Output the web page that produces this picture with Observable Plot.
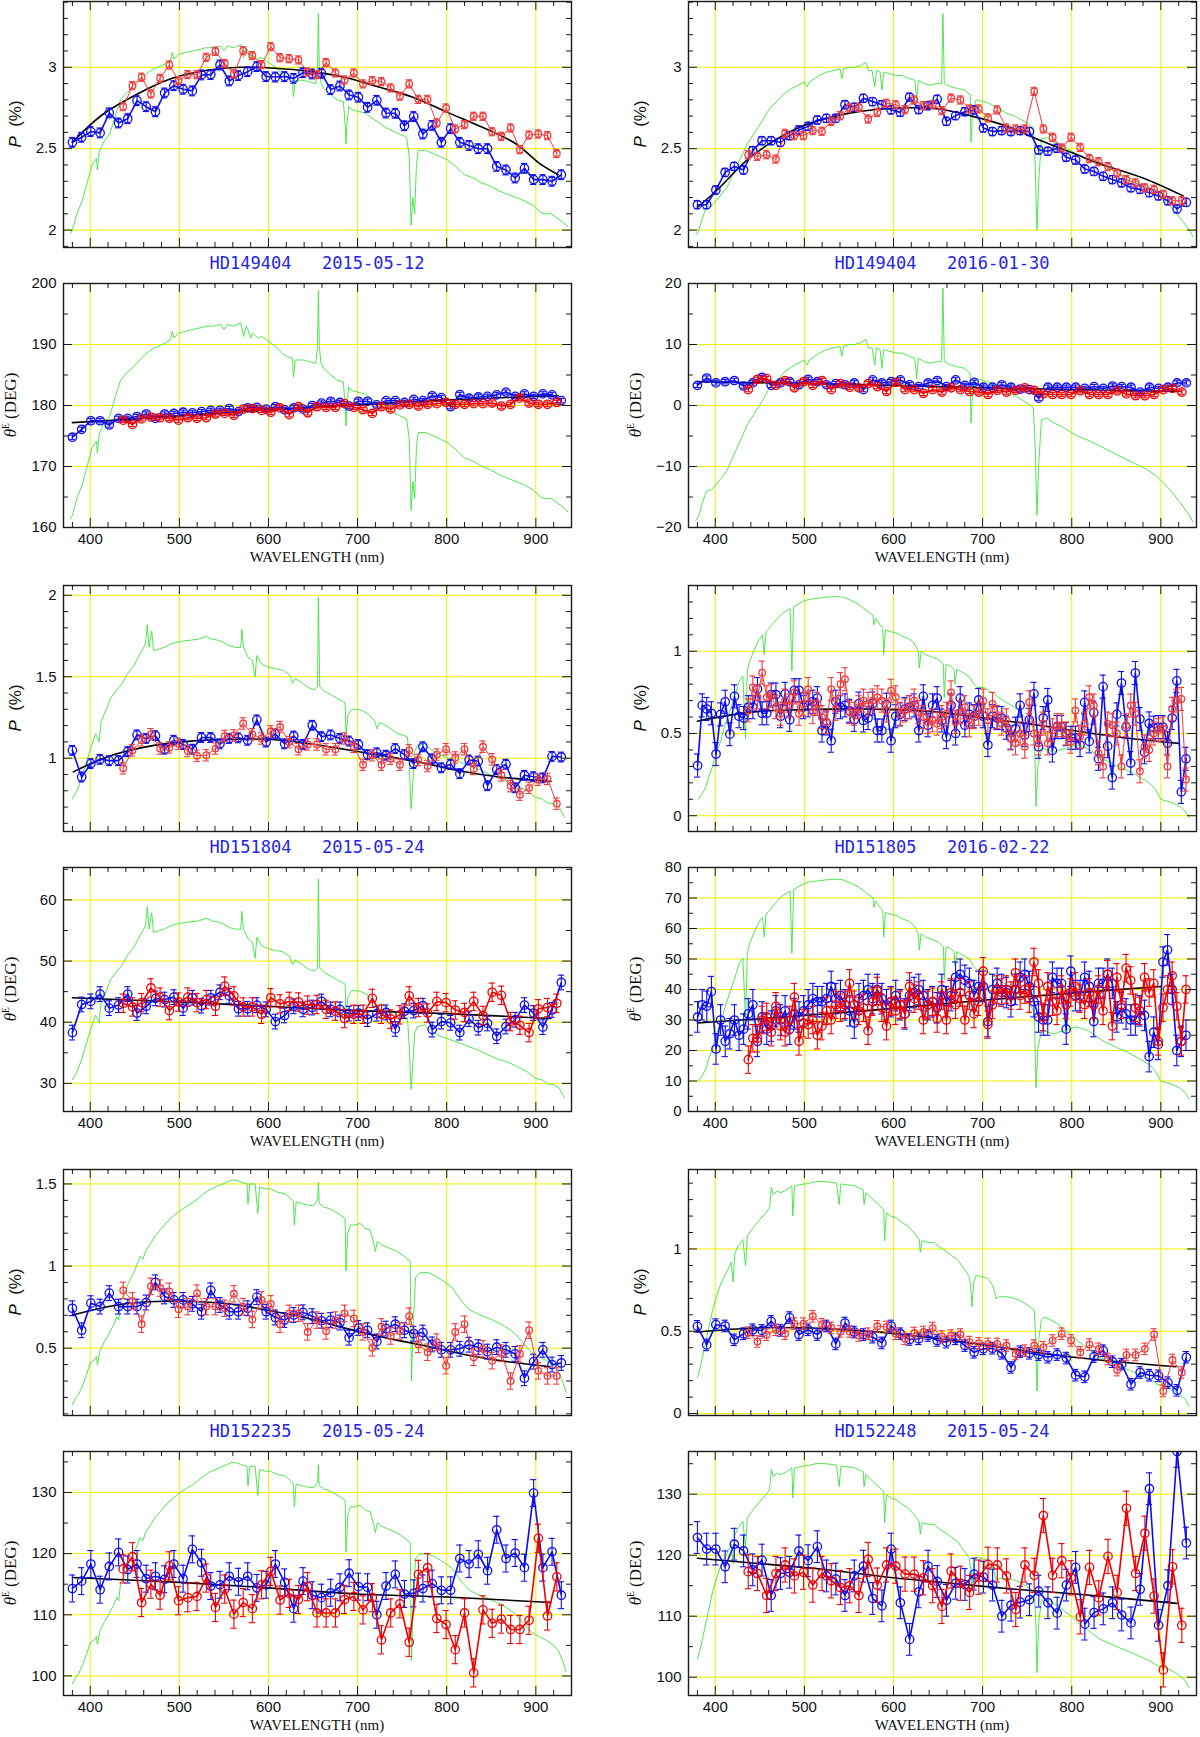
<!DOCTYPE html>
<html>
<head>
<meta charset="utf-8">
<script src="https://cdn.jsdelivr.net/npm/d3@7"></script>
<script src="https://cdn.jsdelivr.net/npm/@observablehq/plot@0.6"></script>
<style>
  body { margin: 0; background: #fff; }
  #fig { position: relative; width: 1200px; height: 1737px; background: #fff; overflow: hidden; }
  #fig svg { position: absolute; }
  .title { position: absolute; transform: translate(-50%, -50%); white-space: pre; font-family: "DejaVu Sans Mono", monospace; font-size: 17px; color: #2424e8; }
  .xlab { position: absolute; transform: translate(-50%, -50%); white-space: pre; font-family: "Liberation Serif", "DejaVu Serif", serif; font-size: 15px; color: #111; }
  .ylab { position: absolute; transform: translate(-50%, -50%) rotate(-90deg); white-space: pre; color: #111; }
  .ylab.p { font-family: "Liberation Sans", Arial, sans-serif; font-size: 17px; }
  .ylab.t { font-family: "Liberation Serif", "DejaVu Serif", serif; font-size: 17px; }
  .ylab sup { font-size: 0.55em; vertical-align: 0.7em; }
</style>
</head>
<body>
<div id="fig"></div>
<script>
// wavelength bins (nm)
const wlBlue = [380,390.4,400.7,411.1,421.4,431.8,442.1,452.5,462.8,473.2,483.5,493.9,504.2,514.6,524.9,535.3,545.6,556,566.3,576.7,587,597.4,607.7,618.1,628.4,638.8,649.1,659.5,669.8,680.2,690.5,700.9,711.2,721.6,731.9,742.3,752.6,763,773.3,783.7,794,804.4,814.7,825.1,835.4,845.8,856.1,866.5,876.8,887.2,897.5,907.9,918.2,928.6];
const wlRed = [437,447.4,457.7,468.1,478.4,488.8,499.1,509.5,519.8,530.2,540.5,550.9,561.2,571.6,581.9,592.3,602.6,613,623.3,633.7,644,654.4,664.7,675.1,685.4,695.8,706.1,716.5,726.8,737.2,747.5,757.9,768.2,778.6,788.9,799.3,809.6,820,830.3,840.7,851,861.4,871.7,882.1,892.4,902.8,913.1,923.5];
const wlFine = [380.2,385.4,390.5,395.7,400.9,406,411.2,416.4,421.6,426.7,431.9,437.1,442.2,447.4,452.6,457.8,462.9,468.1,473.3,478.4,483.6,488.8,494,499.1,504.3,509.5,514.6,519.8,525,530.1,535.3,540.5,545.6,550.8,556,561.2,566.3,571.5,576.7,581.8,587,592.2,597.3,602.5,607.7,612.9,618,623.2,628.4,633.5,638.7,643.9,649,654.2,659.4,664.6,669.7,674.9,680.1,685.2,690.4,695.6,700.7,705.9,711.1,716.3,721.4,726.6,731.8,736.9,742.1,747.3,752.4,757.6,762.8,768,773.1,778.3,783.5,788.6,793.8,799,804.1,809.3,814.5,819.7,824.8,830,835.2,840.3,845.5,850.7,855.8,861,866.2,871.4,876.5,881.7,886.9,892,897.2,902.4,907.5,912.7,917.9,923,928.2];

const titles = ["HD149404   2015-05-12", "HD149404   2016-01-30", "HD151804   2015-05-24", "HD151805   2016-02-22", "HD152235   2015-05-24", "HD152248   2015-05-24"];

// HD149404 2015-05-12
const pBlue1 = [2.539,2.57,2.605,2.597,2.72,2.658,2.684,2.795,2.758,2.727,2.842,2.887,2.865,2.855,2.953,2.955,3.014,2.916,2.949,2.973,3.004,2.943,2.94,2.943,2.932,2.967,2.959,2.963,2.863,2.885,2.83,2.816,2.754,2.797,2.719,2.717,2.641,2.697,2.59,2.643,2.539,2.623,2.539,2.52,2.5,2.5,2.391,2.369,2.32,2.379,2.31,2.31,2.30,2.34];
const pRed1 = [2.758,2.887,2.939,2.836,2.932,3.014,2.918,2.955,2.955,3.061,3.098,3.023,2.959,3.102,3.072,3.016,3.127,3.059,3.053,3.045,2.971,2.955,3.029,2.965,2.922,2.965,2.898,2.918,2.912,2.873,2.822,2.898,2.803,2.803,2.658,2.75,2.621,2.648,2.699,2.699,2.604,2.576,2.627,2.494,2.584,2.59,2.58,2.47];
const tBlue1 = [174.8,176.1,177.5,177.5,176.8,177.9,177.9,178.2,178.6,177.9,178.6,178.7,178.9,178.8,179.0,179.2,179.2,179.5,179.0,179.6,179.7,179.4,179.8,179.3,179.6,179.4,180.0,180.4,180.7,180.5,179.9,180.7,180.7,180.1,180.8,180.8,180.5,181.0,180.8,181.6,181.3,179.8,181.8,181.2,181.4,181.5,181.75,182.2,181.5,181.9,181.5,181.9,181.75,180.8];
const tRed1 = [177.6,176.9,177.8,178.1,178.0,177.9,177.6,178.0,177.9,178.0,178.6,178.7,178.4,179.4,179.5,179.2,178.9,179.6,178.5,179.8,178.8,179.8,179.7,179.7,180.3,179.7,179.3,178.7,179.8,179.4,180.1,180.2,179.9,180.2,180.3,180.5,180.2,180.2,180.3,180.3,180.4,179.9,180.2,181.2,180.4,180.2,180.2,180.5];
const fitP1 = [[380,2.54],[414,2.71],[453,2.836],[492,2.932],[530,2.98],[569,3.0],[607,2.994],[646,2.975],[685,2.939],[723,2.88],[762,2.816],[801,2.723],[840,2.631],[878,2.529],[904,2.41],[925,2.34]];
const fitT1 = [[380,177.2],[450,177.8],[500,178.3],[550,178.8],[600,179.3],[650,179.7],[700,180.1],[750,180.5],[800,180.9],[850,181.2],[900,181.5],[925,181.6]];
const spec1 = [[378,1.98],[380,2.0],[385,2.1],[391,2.18],[397,2.3],[402,2.4],[407,2.44],[408,2.37],[410,2.48],[416,2.55],[422,2.59],[428,2.7],[434,2.8],[440,2.84],[445,2.86],[452,2.9],[461,2.95],[468,2.98],[476,3.0],[484,3.02],[490,3.04],[492,3.09],[494,3.05],[499,3.08],[507,3.09],[515,3.1],[523,3.11],[530,3.12],[538,3.12],[546,3.13],[550,3.1],[554,3.13],[561,3.12],[569,3.14],[572,3.06],[575,3.12],[577,3.1],[580,3.05],[582,3.08],[584,3.07],[588,3.05],[592,3.06],[600,3.03],[608,3.0],[615,2.96],[621,2.94],[627,2.93],[628,2.82],[630,2.92],[638,2.92],[646,2.91],[653,2.9],[655,3.0],[656,3.33],[657,3.0],[659,2.9],[662,2.87],[670,2.83],[677,2.8],[684,2.79],[686,2.65],[687,2.53],[688,2.65],[690,2.76],[693,2.74],[700,2.73],[708,2.72],[718,2.68],[724,2.66],[731,2.63],[739,2.61],[747,2.59],[755,2.57],[758,2.45],[760,2.03],[762,2.2],[764,2.1],[766,2.4],[768,2.49],[776,2.49],[785,2.47],[793,2.45],[801,2.43],[810,2.39],[820,2.34],[825,2.33],[830,2.32],[839,2.29],[849,2.27],[859,2.24],[868,2.22],[878,2.2],[887,2.18],[897,2.15],[905,2.11],[910,2.1],[917,2.1],[925,2.07],[930,2.05],[936,2.02]];

// HD149404 2016-01-30
const pBlue2 = [2.156,2.156,2.246,2.354,2.391,2.369,2.488,2.549,2.549,2.539,2.58,2.615,2.637,2.676,2.686,2.686,2.77,2.754,2.809,2.789,2.77,2.738,2.723,2.816,2.74,2.764,2.803,2.668,2.703,2.727,2.738,2.627,2.605,2.611,2.605,2.611,2.605,2.492,2.484,2.502,2.447,2.43,2.375,2.36,2.33,2.31,2.29,2.26,2.25,2.23,2.21,2.18,2.13,2.17];
const pRed2 = [2.463,2.453,2.463,2.436,2.594,2.58,2.58,2.611,2.607,2.668,2.703,2.75,2.754,2.682,2.723,2.779,2.77,2.74,2.799,2.764,2.77,2.734,2.811,2.799,2.744,2.744,2.689,2.738,2.627,2.621,2.621,2.852,2.621,2.57,2.504,2.57,2.508,2.44,2.42,2.39,2.35,2.31,2.29,2.26,2.25,2.22,2.18,2.18];
const tBlue2 = [3.3,4.5,3.7,3.9,4.1,3.2,3.7,4.6,3.3,3.7,3.9,3.4,4.3,3.9,3.4,3.6,3.4,3.7,2.6,4.2,3.7,3.9,4.2,3.4,3.1,3.7,4.1,3.1,4.2,3.3,3.8,3.0,3.0,3.4,3.0,2.7,2.6,1.2,3.0,3.0,3.0,3.0,2.8,3.1,2.8,3.2,3.1,3.0,2.2,3.0,2.8,3.0,3.7,3.7];
const tRed2 = [2.6,4.3,4.4,3.3,4.1,2.9,3.9,3.3,4.1,2.6,3.6,3.0,2.9,3.6,3.1,2.3,3.8,2.6,2.6,2.0,2.6,2.2,2.9,2.6,2.3,2.2,1.8,2.5,2.2,2.5,2.9,2.5,1.9,1.8,1.8,1.8,2.4,1.8,1.8,1.8,2.4,1.9,1.6,1.6,1.8,2.6,2.8,2.2];
const fitP2 = [[380,2.14],[401,2.24],[440,2.45],[494,2.63],[552,2.72],[610,2.75],[649,2.745],[688,2.7],[726,2.64],[765,2.55],[804,2.467],[830,2.41],[880,2.32],[925,2.21]];
const fitT2 = [[380,3.9],[500,3.6],[600,3.3],[700,2.9],[800,2.6],[920,2.3]];
const spec2 = [[378,1.97],[381,1.99],[386,2.08],[390,2.14],[396,2.15],[401,2.18],[407,2.22],[413,2.26],[418,2.32],[424,2.39],[430,2.46],[436,2.53],[442,2.58],[448,2.63],[454,2.68],[459,2.73],[465,2.77],[471,2.8],[478,2.84],[486,2.87],[493,2.89],[500,2.91],[503,2.88],[506,2.91],[517,2.95],[525,2.97],[533,2.98],[540,2.99],[542,2.93],[544,2.99],[550,3.0],[556,3.0],[563,3.01],[569,3.03],[572,2.98],[576,2.98],[579,2.88],[581,2.98],[585,2.97],[587,2.86],[589,2.97],[596,2.96],[603,2.95],[610,2.95],[618,2.93],[624,2.92],[626,2.8],[628,2.92],[634,2.9],[641,2.89],[648,2.9],[654,2.9],[655.5,3.33],[657,2.9],[664,2.88],[672,2.87],[680,2.86],[686,2.83],[687,2.54],[689,2.75],[693,2.8],[700,2.79],[707,2.78],[716,2.75],[726,2.72],[736,2.7],[746,2.67],[752,2.65],[757,2.63],[759,2.4],[761,2.0],[763,2.3],[766,2.56],[772,2.57],[780,2.54],[789,2.52],[798,2.49],[808,2.46],[818,2.44],[830,2.41],[845,2.37],[860,2.33],[872,2.3],[884,2.27],[895,2.23],[905,2.18],[915,2.12],[925,2.05],[932,2.0],[936,1.96]];

// HD151804 2015-05-24
const pBlue3 = [1.048,0.884,0.967,0.993,0.985,0.985,1.04,1.143,1.121,1.138,1.055,1.11,1.084,1.055,1.127,1.127,1.088,1.121,1.125,1.11,1.235,1.099,1.149,1.088,1.136,1.084,1.202,1.132,1.143,1.121,1.105,1.084,1.022,1.033,1.018,1.059,1.022,0.967,1.07,0.996,0.941,0.963,0.905,0.989,0.982,0.831,0.93,0.963,0.818,0.895,0.886,0.879,1.011,1.007];
const pRed3 = [0.938,1.048,1.11,1.147,1.059,1.066,1.088,1.044,1.015,1.018,1.059,1.136,1.14,1.213,1.147,1.121,1.165,1.191,1.099,1.055,1.084,1.084,1.055,1.055,1.121,1.07,0.96,1.018,0.96,0.996,0.96,1.048,0.989,0.952,1.022,1.055,1.004,1.055,0.934,1.07,0.993,0.895,0.829,0.776,0.818,0.868,0.873,0.721];
const tBlue3 = [38.3,42.9,43.4,44.6,42.3,42.8,44.6,41.5,42.6,43.9,43.7,44.1,42.3,44.0,42.7,44.0,44.9,44.3,42.2,42.2,42.8,42.1,40.1,41.1,42.6,42.1,42.4,43.4,42.1,42.1,41.4,41.5,40.5,41.4,41.6,38.9,41.8,41.9,42.7,38.8,40.1,39.9,38.3,40.5,39.1,39.8,37.7,39.3,40.4,42.8,41.5,39.2,42.0,46.5];
const tRed3 = [43.1,42.5,43.2,45.6,44.1,41.9,43.3,44.1,43.2,43.7,42.6,45.9,44.3,42.5,42.5,41.3,44.0,43.0,43.4,43.3,42.8,42.9,42.1,41.8,40.6,41.3,41.3,43.9,41.3,40.5,41.2,44.3,42.4,41.5,43.4,43.2,42.0,41.6,43.4,41.1,44.9,44.4,40.1,39.5,38.3,42.2,42.4,43.1];
const fitP3 = [[381,0.916],[401,0.967],[427,1.022],[470,1.077],[513,1.105],[556,1.116],[599,1.116],[642,1.092],[685,1.055],[728,1.015],[771,0.974],[814,0.923],[857,0.886],[917,0.857]];
const fitT3 = [[380,44.0],[500,43.3],[600,42.6],[700,41.9],[800,41.4],[917,40.6]];
const spec3 = [[380,0.75],[385,0.8],[390,0.87],[396,0.98],[401,1.07],[406,1.15],[410,1.1],[412,1.22],[418,1.3],[423,1.37],[430,1.42],[436,1.46],[442,1.52],[449,1.57],[454,1.62],[459,1.67],[462,1.7],[464,1.82],[466,1.68],[469,1.78],[471,1.66],[477,1.67],[483,1.68],[490,1.7],[496,1.71],[505,1.72],[513,1.725],[521,1.73],[530,1.747],[537,1.73],[543,1.725],[550,1.71],[556,1.69],[563,1.68],[569,1.68],[570,1.79],[572,1.68],[577,1.62],[582,1.6],[585,1.5],[587,1.63],[592,1.58],[599,1.56],[607,1.55],[616,1.54],[624,1.51],[627,1.46],[630,1.49],[638,1.46],[646,1.43],[652,1.42],[655,1.44],[656,1.99],[657.5,1.44],[663,1.41],[670,1.39],[676,1.37],[683,1.35],[686,1.34],[687,1.13],[689,1.26],[693,1.3],[700,1.3],[706,1.29],[712,1.27],[719,1.23],[722,1.18],[725,1.22],[732,1.2],[740,1.17],[745,1.15],[752,1.14],[756,1.13],[758,0.95],[760,0.69],[762,0.85],[764,1.04],[767,1.077],[775,1.088],[783,1.05],[792,1.02],[803,1.0],[814,0.978],[825,0.955],[835,0.934],[846,0.905],[857,0.879],[868,0.86],[878,0.835],[890,0.8],[900,0.758],[907,0.75],[913,0.725],[920,0.72],[926,0.7],[932,0.64]];

// HD151805 2016-02-22 (finer bins)
const pBlue4 = [0.305,0.671,0.649,0.623,0.375,0.616,0.693,0.496,0.726,0.605,0.594,0.66,0.66,0.77,0.623,0.623,0.737,0.737,0.605,0.741,0.583,0.763,0.763,0.66,0.671,0.693,0.715,0.518,0.561,0.456,0.693,0.66,0.671,0.638,0.583,0.682,0.579,0.594,0.682,0.518,0.518,0.675,0.456,0.605,0.616,0.649,0.66,0.671,0.518,0.726,0.55,0.671,0.715,0.579,0.478,0.671,0.5,0.715,0.55,0.616,0.605,0.704,0.605,0.43,0.605,0.594,0.594,0.535,0.474,0.529,0.671,0.491,0.583,0.741,0.419,0.594,0.704,0.397,0.539,0.539,0.496,0.474,0.474,0.43,0.689,0.452,0.627,0.346,0.785,0.423,0.232,0.616,0.807,0.539,0.32,0.868,0.588,0.386,0.561,0.535,0.539,0.539,0.441,0.594,0.82,0.145,0.346];
const pRed4 = [0.64,0.78,0.72,0.87,0.72,0.73,0.66,0.62,0.7,0.67,0.75,0.62,0.68,0.77,0.63,0.68,0.6,0.57,0.77,0.65,0.8,0.83,0.63,0.62,0.66,0.7,0.68,0.7,0.72,0.7,0.64,0.76,0.72,0.62,0.64,0.66,0.7,0.63,0.6,0.57,0.58,0.56,0.6,0.62,0.75,0.57,0.63,0.66,0.55,0.6,0.62,0.7,0.58,0.68,0.6,0.56,0.58,0.47,0.44,0.5,0.42,0.69,0.5,0.44,0.56,0.44,0.52,0.55,0.55,0.5,0.45,0.64,0.48,0.56,0.72,0.67,0.38,0.3,0.56,0.55,0.5,0.3,0.55,0.67,0.62,0.27,0.42,0.4,0.5,0.52,0.53,0.3,0.65,0.7,0.71,0.22];
const tBlue4 = [31,35,34.5,39.3,20.5,30,23,25.5,30,25,27,32,35,23,31,27,28,33,30,33,27,32,31,33,35,37,36,36,37,41,37,38,35,33,29,37,38,40,37,40,37,35,36,38,35,32,38,39,40,38,35,36,34,40,36,38,44,45,43,42,38,41,41,29.5,40,42,40,39,36,40,44,45,41,36,31,30,30,44,42,42,27,46,38,38,44,41,29.5,42,42,45,42,31,34,32,30,30,33,31.5,18,26,22,49,53,40,20,23,25];
const tRed4 = [17,24,24,30,31,26,34.5,28,26,30,37.5,23,29,28.5,30,25,28,33,30,35,34,35,42,35,33,34,26.5,36,39.5,34,28,36,33,35,32,41,37,38,30,35,36,30.5,38,30,39,35,39,30,38,32,36,46,28.5,35,40,39,40,38,45.5,38,40,37,49,42,31,41,36,33,40,35,39,41,37,35,39,35,40,33,45,28,44,35,47,43,34,33,44,39,42,23,34,40,44.5,34.5,23,40];
const fitP4 = [[380,0.575],[440,0.63],[500,0.645],[550,0.65],[600,0.645],[650,0.63],[700,0.595],[750,0.56],[800,0.52],[850,0.48],[900,0.45],[920,0.44]];
const fitT4 = [[380,29],[500,31.5],[600,33.8],[700,36.5],[800,38.8],[900,41]];
const spec4 = [[381,0.1],[385,0.13],[389,0.167],[393,0.24],[397,0.3],[401,0.38],[406,0.45],[411,0.55],[417,0.65],[422,0.73],[427,0.82],[431,0.85],[434,0.47],[436,0.88],[438,0.93],[443,1.0],[449,1.07],[453,1.1],[455,0.98],[457,1.12],[462,1.15],[468,1.19],[475,1.23],[481,1.25],[484,1.26],[486,0.88],[488,1.27],[494,1.29],[500,1.307],[505,1.315],[509,1.318],[518,1.325],[526,1.33],[535,1.333],[543,1.33],[552,1.31],[561,1.285],[569,1.25],[577,1.22],[578,1.16],[580,1.2],[585,1.16],[588,1.14],[589,0.98],[591,1.13],[596,1.12],[604,1.11],[610,1.09],[617,1.077],[623,1.05],[628,1.0],[629,0.9],[631,1.0],[636,0.98],[642,0.967],[650,0.95],[656,0.92],[657,0.72],[659,0.92],[664,0.91],[668,0.89],[669,0.8],[671,0.89],[678,0.87],[685,0.846],[690,0.8],[694,0.78],[702,0.78],[710,0.75],[719,0.715],[726,0.69],[733,0.671],[742,0.63],[750,0.583],[755,0.55],[758,0.518],[760,0.057],[762,0.3],[765,0.38],[767,0.408],[773,0.4],[780,0.386],[786,0.4],[793,0.408],[799,0.42],[805,0.43],[812,0.42],[818,0.408],[826,0.38],[836,0.342],[845,0.32],[853,0.298],[861,0.28],[870,0.254],[878,0.23],[887,0.2],[894,0.16],[900,0.1],[906,0.09],[913,0.079],[921,0.057],[927,0.03],[932,-0.01]];

// HD152235 2015-05-24
const pBlue5 = [0.743,0.609,0.774,0.753,0.835,0.753,0.753,0.753,0.778,0.901,0.815,0.794,0.794,0.77,0.722,0.852,0.763,0.722,0.722,0.743,0.811,0.722,0.687,0.671,0.702,0.718,0.695,0.667,0.671,0.656,0.564,0.623,0.609,0.541,0.619,0.646,0.609,0.588,0.595,0.523,0.49,0.49,0.496,0.521,0.506,0.479,0.506,0.49,0.465,0.317,0.418,0.49,0.4,0.41];
const pRed5 = [0.852,0.788,0.646,0.877,0.866,0.846,0.737,0.753,0.835,0.753,0.753,0.743,0.831,0.753,0.675,0.794,0.77,0.646,0.712,0.712,0.599,0.671,0.605,0.671,0.712,0.681,0.599,0.502,0.63,0.574,0.605,0.695,0.523,0.475,0.537,0.393,0.599,0.646,0.444,0.496,0.424,0.469,0.3,0.465,0.609,0.362,0.331,0.331];
const tBlue5 = [114.3,115.5,118.3,114.1,117.9,120.2,117.4,118.3,115.9,116.3,115.8,118.3,115.9,120.7,118.5,114.7,114.9,116.3,115.4,116.3,114.4,114.9,118.3,115.3,111.0,115.5,113.2,112.8,113.6,114.5,116.8,114.6,114.5,110.0,114.7,116.6,113.4,113.5,114.3,115.1,114.0,114.0,119.2,118.3,119.9,117.2,123.9,119.2,120.1,117.7,129.9,117.7,120.3,113.2];
const tRed5 = [117.5,119.5,112.0,115.0,113.2,118.0,112.3,112.8,113.0,116.0,111.2,114.2,110.1,112.0,111.0,114.9,117.1,112.4,113.5,112.5,114.6,110.3,110.3,110.3,112.5,113.0,110.8,112.8,105.9,110.3,111.8,105.5,116.6,117.7,109.4,108.4,104.3,110.3,100.5,110.8,108.6,109.3,107.6,107.6,109.1,122.5,109.8,116.2];
const fitP5 = [[380,0.702],[430,0.763],[473,0.784],[516,0.784],[559,0.767],[602,0.728],[645,0.681],[688,0.619],[731,0.564],[774,0.516],[817,0.465],[860,0.424],[916,0.387]];
const fitT5 = [[380,116.1],[500,115.3],[600,114.4],[700,113.4],[800,112.9],[917,112.0]];
const spec5 = [[380,0.156],[384,0.2],[387,0.218],[392,0.28],[396,0.342],[400,0.41],[404,0.424],[407,0.45],[408,0.4],[411,0.486],[416,0.54],[421,0.588],[426,0.64],[430,0.691],[432,0.67],[434,0.78],[439,0.835],[443,0.9],[449,0.96],[456,1.06],[459,1.04],[462,1.09],[468,1.14],[473,1.185],[480,1.23],[486,1.267],[492,1.3],[499,1.33],[507,1.36],[516,1.39],[525,1.43],[533,1.463],[540,1.48],[546,1.494],[553,1.51],[559,1.525],[565,1.52],[570,1.51],[576,1.5],[577,1.38],[579,1.5],[585,1.5],[588,1.32],[590,1.48],[596,1.47],[602,1.47],[610,1.45],[619,1.44],[625,1.41],[628,1.39],[629,1.25],[631,1.39],[638,1.38],[645,1.37],[651,1.37],[655,1.4],[656,1.51],[657,1.38],[662,1.36],[668,1.35],[675,1.33],[681,1.31],[686,1.29],[687,0.97],[689,1.2],[692,1.25],[697,1.25],[703,1.26],[708,1.23],[714,1.22],[718,1.14],[720,1.09],[722,1.15],[727,1.13],[735,1.11],[744,1.09],[752,1.06],[759,1.03],[760.5,0.3],[762,0.6],[765,0.93],[770,0.96],[779,0.96],[787,0.94],[796,0.91],[806,0.87],[817,0.784],[826,0.733],[834,0.71],[843,0.69],[852,0.67],[860,0.65],[869,0.62],[877,0.588],[886,0.53],[895,0.475],[903,0.45],[912,0.424],[919,0.4],[925,0.362],[930,0.3],[934,0.23]];

// HD152248 2015-05-24
const pBlue6 = [0.53,0.417,0.54,0.532,0.448,0.485,0.509,0.505,0.56,0.505,0.583,0.48,0.509,0.48,0.532,0.423,0.55,0.495,0.48,0.464,0.429,0.532,0.485,0.45,0.454,0.474,0.444,0.434,0.454,0.413,0.372,0.393,0.397,0.366,0.28,0.376,0.366,0.358,0.342,0.358,0.337,0.233,0.223,0.346,0.382,0.315,0.3,0.178,0.249,0.233,0.229,0.188,0.141,0.342];
const pRed6 = [0.491,0.438,0.479,0.509,0.485,0.546,0.546,0.591,0.542,0.521,0.499,0.499,0.474,0.485,0.53,0.526,0.485,0.454,0.489,0.495,0.519,0.468,0.474,0.48,0.434,0.427,0.423,0.423,0.413,0.362,0.382,0.413,0.403,0.444,0.485,0.444,0.372,0.419,0.393,0.331,0.264,0.356,0.356,0.393,0.48,0.137,0.325,0.249];
const tBlue6 = [122.9,121.0,121.0,118.1,121.8,120.7,117.6,119.2,113.4,117.0,117.2,120.7,119.1,121.4,116.6,116.1,113.4,116.6,118.2,112.9,111.7,121.0,112.2,106.2,114.0,118.2,115.7,112.6,115.4,115.2,116.9,116.4,115.1,110.0,111.8,112.3,112.7,114.1,112.2,110.5,115.1,118.0,108.7,110.6,111.2,112.2,110.2,108.9,114.4,130.9,108.5,115.0,137.0,122.0];
const tRed6 = [117.3,117.0,113.4,117.0,118.4,116.6,117.2,115.1,117.0,115.8,114.7,115.0,113.4,119.3,115.1,118.4,118.2,116.9,116.9,116.3,115.0,111.6,117.4,115.4,113.9,116.4,118.5,118.4,116.6,111.1,118.4,116.7,126.5,116.7,119.1,116.3,109.9,118.0,113.0,119.8,113.9,127.7,117.0,123.6,113.3,101.2,118.1,108.5];
const fitP6 = [[380,0.495],[444,0.52],[508,0.52],[573,0.499],[637,0.464],[702,0.417],[767,0.366],[831,0.325],[917,0.284]];
const fitT6 = [[380,119.5],[460,118.5],[520,117.7],[600,116.3],[650,115.6],[730,114.5],[808,113.6],[918,112.1]];
const spec6 = [[380,0.22],[384,0.3],[388,0.4],[392,0.5],[397,0.628],[401,0.7],[405,0.77],[409,0.82],[414,0.873],[418,0.92],[420,0.8],[422,0.975],[426,1.02],[431,1.057],[434,0.9],[436,1.08],[440,1.11],[444,1.139],[450,1.18],[457,1.22],[461,1.25],[463,1.374],[465,1.33],[469,1.35],[474,1.343],[480,1.36],[486,1.384],[487,1.2],[489,1.38],[494,1.39],[500,1.395],[506,1.4],[513,1.409],[521,1.41],[530,1.405],[536,1.4],[539,1.27],[541,1.395],[548,1.39],[556,1.384],[562,1.37],[566,1.36],[567,1.27],[569,1.343],[577,1.3],[583,1.27],[589,1.241],[590,1.05],[592,1.22],[597,1.2],[603,1.19],[610,1.16],[616,1.14],[623,1.1],[629,1.057],[630,0.98],[632,1.05],[639,1.04],[646,1.037],[652,1.01],[659,0.986],[665,0.96],[672,0.935],[679,0.88],[685,0.832],[687,0.75],[688,0.65],[690,0.8],[693,0.84],[700,0.83],[706,0.822],[712,0.77],[715,0.7],[719,0.71],[728,0.71],[735,0.7],[741,0.69],[750,0.66],[758,0.628],[760,0.4],[761,0.137],[763,0.45],[766,0.57],[769,0.587],[776,0.57],[784,0.546],[792,0.51],[801,0.474],[807,0.44],[814,0.413],[822,0.38],[831,0.342],[840,0.32],[848,0.3],[857,0.28],[866,0.26],[874,0.24],[883,0.219],[890,0.2],[896,0.178],[902,0.17],[909,0.157],[915,0.14],[921,0.117],[927,0.09],[932,0.045]];

// panel setup: spectrum drawn in P units, rescaled into the angle panel by two anchor pairs
const panels = [
  {title: titles[0], spec: spec1, specMap: [2.0, 162, 3.12, 193],
   P: {blue: pBlue1, red: pRed1, eb: 0.03, er: 0.025, fit: fitP1, dom: [1.893, 3.404], major: [2, 2.5, 3], minor: 0.1},
   T: {blue: tBlue1, red: tRed1, eb: 0.35, er: 0.35, fit: fitT1, dom: [160, 200], major: [160, 170, 180, 190, 200], minor: 5}},
  {title: titles[1], spec: spec2, specMap: [2.0, -18, 3.0, 10],
   P: {blue: pBlue2, red: pRed2, eb: 0.025, er: 0.025, fit: fitP2, dom: [1.893, 3.404], major: [2, 2.5, 3], minor: 0.1},
   T: {blue: tBlue2, red: tRed2, eb: 0.35, er: 0.35, fit: fitT2, dom: [-20, 20], major: [-20, -10, 0, 10, 20], minor: 5}},
  {title: titles[2], spec: spec3, specMap: [0.747, 30.5, 1.747, 57],
   P: {blue: pBlue3, red: pRed3, eb: 0.03, er: 0.035, fit: fitP3, dom: [0.55, 2.06], major: [1, 1.5, 2], minor: 0.1},
   T: {blue: tBlue3, red: tRed3, eb: 1.2, er: 1.5, fit: fitT3, dom: [25.4, 65.3], major: [30, 40, 50, 60], minor: 5}},
  {title: titles[3], spec: spec4, specMap: [0.1, 10, 1.33, 76], xb: wlFine, xr: wlFine.slice(11),
   P: {blue: pBlue4, red: pRed4, eb: 0.07, er: 0.07, fit: fitP4, dom: [-0.096, 1.40], major: [0, 0.5, 1], minor: 0.1},
   T: {blue: tBlue4, red: tRed4, eb: 5, er: 4.5, fit: fitT4, dom: [0, 80], major: [0, 10, 20, 30, 40, 50, 60, 70, 80], minor: 5}},
  {title: titles[4], spec: spec5, specMap: [0.156, 98.7, 1.52, 134.8],
   P: {blue: pBlue5, red: pRed5, eb: 0.045, er: 0.05, fit: fitP5, dom: [0.09, 1.588], major: [0.5, 1, 1.5], minor: 0.1},
   T: {blue: tBlue5, red: tRed5, eb: 2.2, er: 2.3, fit: fitT5, dom: [96.8, 136.7], major: [100, 110, 120, 130], minor: 5}},
  {title: titles[5], spec: spec6, specMap: [0.22, 103, 1.409, 135],
   P: {blue: pBlue6, red: pRed6, eb: 0.035, er: 0.035, fit: fitP6, dom: [-0.012, 1.483], major: [0, 0.5, 1], minor: 0.1},
   T: {blue: tBlue6, red: tRed6, eb: 2.6, er: 2.8, fit: fitT6, dom: [97.0, 137.0], major: [100, 110, 120, 130], minor: 5}}
];

const X_DOMAIN = [370, 940];
const X_MAJOR = [400, 500, 600, 700, 800, 900];
const X_MINOR = [380, 420, 440, 460, 480, 520, 540, 560, 580, 620, 640, 660, 680, 720, 740, 760, 780, 820, 840, 860, 880, 920, 940];
const FRAME_W = 508, ML = 63, MR = 4;
const COL_X = [63, 688];
const ROW_Y = [0, 584, 1168];

const YELLOW = "#f0f000", GREEN = "#3fe23f", BLUE = "#0d0df2", RED = "#f00000", RED_P = "#f03c3c";

const fmt = (d) => (d < 0 ? "\u2212" + Math.abs(d) : String(d));

function minorTicks(dom, step, major) {
  const out = [];
  const k0 = Math.ceil(dom[0] / step - 1e-9), k1 = Math.floor(dom[1] / step + 1e-9);
  for (let k = k0; k <= k1; k++) {
    const v = +(k * step).toFixed(6);
    if (!major.some((m) => Math.abs(m - v) < 1e-6)) out.push(v);
  }
  return out;
}

function series(xs, ys, err, color, r, lw) {
  const pts = xs.map((x, i) => ({x, y: ys[i]}));
  return [
    Plot.line(pts, {x: "x", y: "y", stroke: color, strokeWidth: lw, clip: true}),
    Plot.ruleX(pts, {x: "x", y1: (d) => d.y - err, y2: (d) => d.y + err, stroke: color, strokeWidth: 1.1, clip: true}),
    Plot.ruleY(pts, {y: (d) => d.y - err, x1: (d) => d.x - 3.5, x2: (d) => d.x + 3.5, stroke: color, strokeWidth: 1.1, clip: true}),
    Plot.ruleY(pts, {y: (d) => d.y + err, x1: (d) => d.x - 3.5, x2: (d) => d.x + 3.5, stroke: color, strokeWidth: 1.1, clip: true}),
    Plot.dot(pts, {x: "x", y: "y", r, stroke: color, strokeWidth: 1.3, fill: "none", clip: true})
  ];
}

function frameTicks(major, minor, h) {
  const w = FRAME_W, tk = "#1a1a1a";
  return [
    Plot.ruleX(X_MAJOR, {insetTop: h - 9, stroke: tk}),
    Plot.ruleX(X_MAJOR, {insetBottom: h - 9, stroke: tk}),
    Plot.ruleX(X_MINOR, {insetTop: h - 5, stroke: tk}),
    Plot.ruleX(X_MINOR, {insetBottom: h - 5, stroke: tk}),
    Plot.ruleY(major, {insetRight: w - 9, stroke: tk}),
    Plot.ruleY(major, {insetLeft: w - 9, stroke: tk}),
    Plot.ruleY(minor, {insetRight: w - 5, stroke: tk}),
    Plot.ruleY(minor, {insetLeft: w - 5, stroke: tk})
  ];
}

function buildPanel(p, kind) {
  const s = p[kind];
  const isP = kind === "P";
  const h = isP ? 246 : 244;
  const mt = isP ? 1 : 2, mb = isP ? 3 : 26;
  const xb = p.xb || wlBlue, xr = p.xr || wlRed;
  const [pA, tA, pB, tB] = p.specMap;
  const spec = isP ? p.spec : p.spec.map(([w, v]) => [w, tA + (v - pA) * (tB - tA) / (pB - pA)]);
  const minor = minorTicks(s.dom, s.minor, s.major);

  const marks = [
    Plot.ruleX(X_MAJOR, {stroke: YELLOW, strokeWidth: 1}),
    Plot.ruleY(s.major, {stroke: YELLOW, strokeWidth: 1}),
    Plot.line(spec, {x: (d) => d[0], y: (d) => d[1], stroke: GREEN, strokeWidth: 0.9, clip: true}),
    Plot.line(s.fit, {x: (d) => d[0], y: (d) => d[1], curve: "catmull-rom", stroke: "#000", strokeWidth: 1.6, clip: true}),
    ...series(xb, s.blue, s.eb, BLUE, 4.2, 1.6),
    ...series(xr, s.red, s.er, isP ? RED_P : RED, isP ? 3.3 : 4.2, isP ? 1 : 1.6),
    ...frameTicks(s.major, minor, h),
    Plot.frame({stroke: "#1a1a1a", strokeWidth: 1.4}),
    Plot.axisY({ticks: s.major, tickSize: 0, tickPadding: 7, label: null, tickFormat: fmt})
  ];
  if (!isP) {
    marks.push(Plot.axisX({ticks: X_MAJOR, tickSize: 0, tickPadding: 6, label: null, tickFormat: (d) => String(d)}));
  }

  return Plot.plot({
    width: ML + FRAME_W + MR,
    height: mt + h + mb,
    marginLeft: ML,
    marginRight: MR,
    marginTop: mt,
    marginBottom: mb,
    x: {domain: X_DOMAIN, axis: null},
    y: {domain: s.dom, axis: null},
    style: {fontFamily: "'Liberation Sans', Arial, sans-serif", fontSize: "15px", color: "#111", background: "transparent", overflow: "visible"},
    marks
  });
}

const fig = d3.select("#fig");

panels.forEach((p, i) => {
  const col = i % 2, row = Math.floor(i / 2);
  const fx = COL_X[col], ry = ROW_Y[row];

  const svgP = buildPanel(p, "P");
  svgP.style.left = (fx - ML) + "px";
  svgP.style.top = ry + "px";
  fig.append(() => svgP);

  const svgT = buildPanel(p, "T");
  svgT.style.left = (fx - ML) + "px";
  svgT.style.top = (ry + 281) + "px";
  fig.append(() => svgT);
});

panels.forEach((p, i) => {
  const col = i % 2, row = Math.floor(i / 2);
  const fx = COL_X[col], ry = ROW_Y[row];
  const cx = fx + FRAME_W / 2;

  fig.append("div").attr("class", "title").style("left", cx + "px").style("top", (ry + 263) + "px").text(p.title);
  fig.append("div").attr("class", "xlab").style("left", cx + "px").style("top", (ry + 557) + "px").text("WAVELENGTH (nm)");
  fig.append("div").attr("class", "ylab p").style("left", (fx - 47) + "px").style("top", (ry + 124) + "px")
    .html("<i>P</i>&nbsp;&nbsp;(%)");
  fig.append("div").attr("class", "ylab t").style("left", (fx - 52) + "px").style("top", (ry + 405) + "px")
    .html("<i>\u03b8</i><sup>E</sup>&nbsp;(DEG)");
});
</script>
</body>
</html>
